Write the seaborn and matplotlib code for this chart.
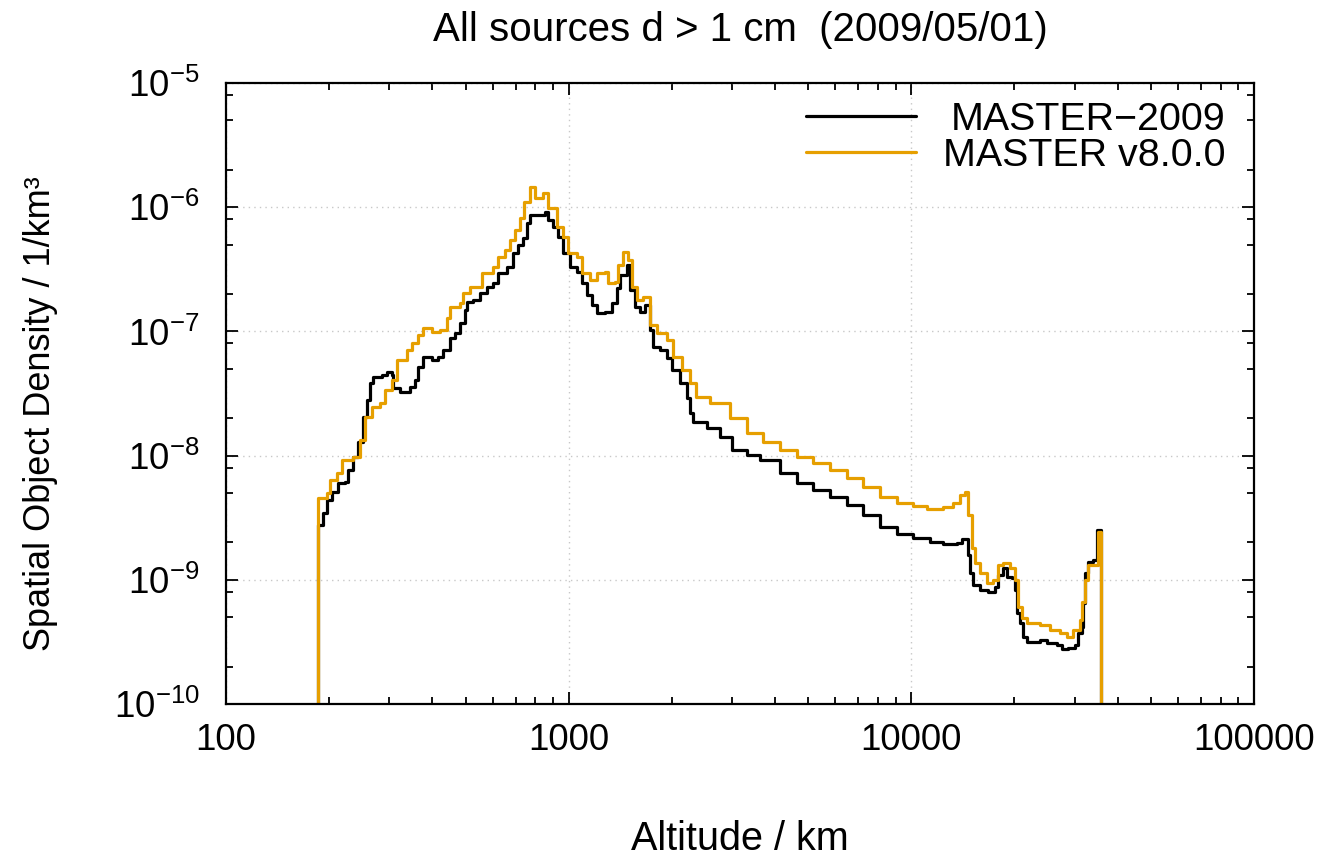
import numpy as np
import pandas as pd
import matplotlib
matplotlib.use("Agg")
import matplotlib.pyplot as plt
import seaborn as sns
from matplotlib.ticker import LogLocator, FixedLocator, FuncFormatter, NullFormatter

sns.set_theme(style="white")
plt.rcParams["font.family"] = ["Liberation Sans", "DejaVu Sans"]
plt.rcParams["mathtext.fontset"] = "custom"
plt.rcParams["mathtext.rm"] = "Liberation Sans"
plt.rcParams["mathtext.it"] = "Liberation Sans:italic"
plt.rcParams["mathtext.bf"] = "Liberation Sans:bold"
plt.rcParams["text.color"] = "black"
plt.rcParams["axes.labelcolor"] = "black"
plt.rcParams["xtick.color"] = "black"
plt.rcParams["ytick.color"] = "black"

TITLE = "All sources d > 1 cm  (2009/05/01)"
XLABEL = "Altitude / km"
YLABEL = "Spatial Object Density / 1/km³"
SERIES = ["MASTER\u22122009", "MASTER v8.0.0"]
COLORS = ["#000000", "#E69F00"]
XTICKS = [100, 1000, 10000, 100000]

# MASTER-2009 (altitude bin start in km, density in 1/km^3)
alt_2009 = [185, 186, 192, 197, 204, 212, 223, 227, 235, 243,
            251, 258, 263, 269, 285, 295, 305, 307, 322, 344,
            356, 363, 376, 399, 416, 430, 450, 466, 482, 498,
            505, 526, 551, 578, 601, 622, 661, 688, 711, 736,
            756, 771, 853, 871, 900, 931, 963, 1009, 1058, 1094,
            1131, 1170, 1210, 1276, 1337, 1384, 1412, 1480, 1510, 1562,
            1615, 1670, 1727, 1762, 1847, 1936, 2002, 2114, 2215, 2260,
            2306, 2533, 2764, 2997, 3315, 3617, 4138, 4638, 5164, 5788,
            6490, 7226, 8101, 9081, 10111, 11337, 12370, 13590, 14055, 14633,
            14831, 15135, 15863, 16741, 17548, 17905, 18517, 19022, 19673, 20073,
            20346, 20760, 21180, 21757, 23740, 24890, 26620, 27530, 28660, 30040,
            30650, 31480, 31700, 32130, 32780, 33890, 34820, 35690]
dens_2009 = [0.0, 2.76e-9, 3.45e-9, 4.39e-9, 5.09e-9, 6.02e-9, 6.13e-9, 7.66e-9, 9.75e-9, 1.29e-8,
             2.05e-8, 2.80e-8, 3.84e-8, 4.30e-8, 4.46e-8, 4.71e-8, 4.46e-8, 3.50e-8, 3.25e-8, 3.57e-8,
             4.06e-8, 5.17e-8, 6.22e-8, 5.89e-8, 6.22e-8, 7.08e-8, 8.85e-8, 9.71e-8, 1.17e-7, 1.49e-7,
             1.73e-7, 1.79e-7, 2.04e-7, 2.28e-7, 2.45e-7, 2.95e-7, 3.30e-7, 4.28e-7, 4.96e-7, 5.65e-7,
             7.46e-7, 8.66e-7, 9.15e-7, 7.89e-7, 6.93e-7, 5.75e-7, 4.28e-7, 3.30e-7, 3.01e-7, 2.45e-7,
             1.96e-7, 1.63e-7, 1.41e-7, 1.43e-7, 1.69e-7, 2.23e-7, 2.84e-7, 3.43e-7, 2.15e-7, 1.57e-7,
             1.43e-7, 1.63e-7, 1.03e-7, 7.49e-8, 7.08e-8, 6.11e-8, 4.89e-8, 3.84e-8, 2.91e-8, 2.20e-8,
             1.87e-8, 1.67e-8, 1.41e-8, 1.11e-8, 1.01e-8, 9.22e-9, 7.24e-9, 6.02e-9, 5.28e-9, 4.64e-9,
             4.00e-9, 3.32e-9, 2.66e-9, 2.34e-9, 2.17e-9, 2.02e-9, 1.94e-9, 1.98e-9, 2.13e-9, 1.58e-9,
             1.13e-9, 9.08e-10, 8.28e-10, 7.98e-10, 8.75e-10, 1.09e-9, 1.24e-9, 1.05e-9, 1.03e-9, 8.28e-10,
             5.40e-10, 4.49e-10, 3.46e-10, 3.16e-10, 3.28e-10, 3.10e-10, 2.99e-10, 2.77e-10, 2.82e-10, 2.99e-10,
             3.73e-10, 4.17e-10, 6.50e-10, 1.13e-9, 1.39e-9, 1.44e-9, 2.50e-9, 0.0]

# MASTER v8.0.0
alt_v8 = [185, 186, 197, 201, 211, 218, 235, 246, 254, 267,
          281, 291, 305, 316, 338, 349, 363, 376, 399, 421,
          441, 450, 482, 492, 515, 559, 601, 622, 652, 674,
          697, 721, 741, 771, 798, 842, 871, 925, 963, 995,
          1058, 1094, 1154, 1210, 1276, 1302, 1365, 1393, 1441, 1490,
          1530, 1583, 1648, 1727, 1810, 1936, 2016, 2142, 2260, 2360,
          2584, 2957, 3315, 3691, 4138, 4638, 5164, 5788, 6490, 7226,
          8101, 9081, 10111, 11111, 12370, 13229, 13868, 14300, 14633, 15031,
          15339, 15863, 16629, 17314, 17905, 18517, 19409, 20073, 20483, 21038,
          21757, 23740, 25400, 27160, 28470, 29640, 31060, 31480, 32130, 32780,
          35050, 35690]
dens_v8 = [0.0, 4.56e-9, 5.00e-9, 6.36e-9, 7.24e-9, 9.22e-9, 9.75e-9, 1.34e-8, 2.05e-8, 2.46e-8,
           2.65e-8, 3.37e-8, 4.06e-8, 5.89e-8, 7.08e-8, 8.07e-8, 9.35e-8, 1.06e-7, 9.95e-8, 1.03e-7,
           1.28e-7, 1.57e-7, 1.69e-7, 2.04e-7, 2.28e-7, 2.95e-7, 3.30e-7, 3.97e-7, 4.52e-7, 5.45e-7,
           6.55e-7, 8.19e-7, 1.10e-6, 1.46e-6, 1.19e-6, 1.30e-6, 9.87e-7, 6.93e-7, 5.75e-7, 4.28e-7,
           3.97e-7, 2.95e-7, 2.59e-7, 2.95e-7, 3.01e-7, 2.45e-7, 2.50e-7, 3.43e-7, 4.36e-7, 3.76e-7,
           2.28e-7, 1.79e-7, 1.89e-7, 1.13e-7, 9.71e-8, 8.53e-8, 6.22e-8, 4.89e-8, 3.84e-8, 2.96e-8,
           2.65e-8, 2.01e-8, 1.52e-8, 1.29e-8, 1.11e-8, 9.75e-9, 8.72e-9, 7.66e-9, 6.61e-9, 5.59e-9,
           4.64e-9, 4.15e-9, 3.93e-9, 3.72e-9, 3.86e-9, 4.15e-9, 4.82e-9, 5.09e-9, 3.32e-9, 1.80e-9,
           1.37e-9, 1.13e-9, 9.42e-10, 9.96e-10, 1.32e-9, 1.37e-9, 1.24e-9, 9.96e-10, 6.04e-10, 4.93e-10,
           4.49e-10, 4.33e-10, 3.94e-10, 3.73e-10, 3.46e-10, 3.94e-10, 4.75e-10, 6.63e-10, 9.96e-10, 1.32e-9,
           2.43e-9, 0.0]

assert len(alt_2009) == len(dens_2009)
assert len(alt_v8) == len(dens_v8)

df = pd.concat([
    pd.DataFrame({"alt": alt_2009, "dens": dens_2009, "model": SERIES[0]}),
    pd.DataFrame({"alt": alt_v8, "dens": dens_v8, "model": SERIES[1]}),
], ignore_index=True)

fig = plt.figure(figsize=(13.37, 8.60), dpi=100)
ax = fig.add_axes([226 / 1337, 156 / 860, 1028 / 1337, 621 / 860])

sns.lineplot(data=df, x="alt", y="dens", hue="model", hue_order=SERIES,
             palette=dict(zip(SERIES, COLORS)), estimator=None, sort=False,
             drawstyle="steps-post", linewidth=2.3, legend=False, ax=ax)

ax.set_xscale("log")
ax.set_yscale("log")
ax.set_xlim(100, 100000)
ax.set_ylim(1e-10, 1e-5)

ax.xaxis.set_major_locator(FixedLocator(XTICKS))
ax.xaxis.set_major_formatter(FuncFormatter(lambda v, p: f"{int(round(v))}"))
ax.xaxis.set_minor_locator(LogLocator(base=10, subs=np.arange(2, 10), numticks=20))
ax.xaxis.set_minor_formatter(NullFormatter())
ax.yaxis.set_major_locator(LogLocator(base=10, numticks=20))
ax.yaxis.set_major_formatter(FuncFormatter(lambda v, p: r"$10^{%d}$" % int(round(np.log10(v)))))
ax.yaxis.set_minor_locator(LogLocator(base=10, subs=[2, 5, 8], numticks=20))
ax.yaxis.set_minor_formatter(NullFormatter())

ax.tick_params(which="both", direction="in", top=True, right=True, bottom=True, left=True,
               color="black", width=1.3)
ax.tick_params(which="major", length=8.5, labelsize=26.5)
ax.tick_params(axis="x", which="major", pad=14)
ax.tick_params(axis="y", which="major", pad=19)
ax.tick_params(which="minor", length=5)

for s in ax.spines.values():
    s.set_color("black")
    s.set_linewidth(1.6)

ax.grid(True, which="major", linestyle=(0, (1, 3)), color="#c8c8c8", linewidth=1.0)
ax.set_axisbelow(True)

ax.set_title(TITLE, fontsize=29, pad=30)
ax.set_xlabel(XLABEL, fontsize=28.5, labelpad=44)
ax.set_ylabel(YLABEL, fontsize=26)
ax.yaxis.set_label_coords(-0.163, 0.467)

LEG_FS = 28.4
handles = ax.get_lines()[:2]
leg = ax.legend(handles, SERIES, loc="upper right", frameon=False, fontsize=LEG_FS,
                handlelength=2.78, handletextpad=0.7, labelspacing=0.0,
                borderpad=0.4, borderaxespad=0.0, bbox_to_anchor=(0.988, 0.9944))
for lh in leg.get_lines():
    lh.set_linewidth(2.3)

fig.canvas.draw()
renderer = fig.canvas.get_renderer()
widths = [t.get_window_extent(renderer).width for t in leg.get_texts()]
wmax = max(widths)
for t, w in zip(leg.get_texts(), widths):
    t.set_position((wmax - w, 0))

fig.savefig("out.png", dpi=100, facecolor="white")
